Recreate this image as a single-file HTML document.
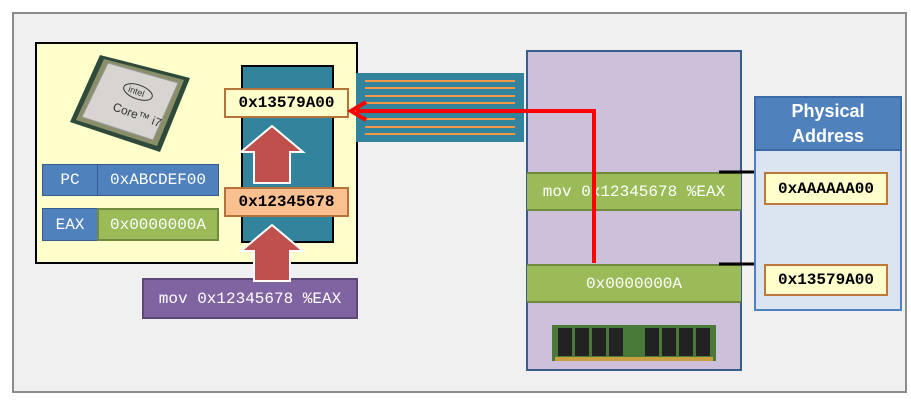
<!DOCTYPE html>
<html><head><meta charset="utf-8"><style>
body{margin:0;width:911px;height:400px;background:#fff;position:relative;overflow:hidden;font-family:"Liberation Mono","DejaVu Sans Mono",monospace}
div{position:absolute;box-sizing:border-box}
.t{display:flex;align-items:center;justify-content:center;font-size:16px}
</style></head><body>
<div style="left:12px;top:12px;width:895px;height:381px;background:#f0f0f0;border:2px solid #8c8c8c"></div>
<div style="left:35px;top:42px;width:323px;height:222px;background:#ffffcc;border:2px solid #000"></div>
<svg style="position:absolute;left:0;top:0" width="911" height="400">
<polygon points="100,55 190,78 160,152 70,122" fill="#2e4a3a"/>
<polygon points="104,59 184,80 157,146 76,120" fill="#8a8f6a"/>
<polygon points="108,63 178,83 153,140 82,117" fill="#d8d4d0" stroke="#999"/>
<text x="112" y="110" font-family="Liberation Sans,sans-serif" font-size="12" fill="#333" transform="rotate(20 112 110)">Core™ i7</text>
<ellipse cx="138" cy="92" rx="15" ry="7" fill="none" stroke="#333" transform="rotate(20 138 92)"/>
<text x="128" y="95" font-family="Liberation Sans,sans-serif" font-size="9" fill="#333" transform="rotate(20 138 92)">intel</text>
</svg>
<div style="left:241px;top:65px;width:93px;height:178px;background:#31849b;border:2px solid #000"></div>
<div class="t" style="left:224px;top:88px;width:125px;height:30px;background:#ffffcc;border:2px solid #b5733a;font-weight:bold">0x13579A00</div>
<div class="t" style="left:224px;top:187px;width:125px;height:30px;background:#fac090;border:2px solid #b5733a;font-weight:bold">0x12345678</div>
<div class="t" style="left:42px;top:164px;width:56px;height:32px;background:#4f81bd;border:1px solid #385d8a;color:#fff">PC</div>
<div class="t" style="left:97px;top:164px;width:122px;height:32px;background:#4f81bd;border:1px solid #385d8a;color:#fff">0xABCDEF00</div>
<div class="t" style="left:42px;top:208px;width:56px;height:33px;background:#4f81bd;border:1px solid #385d8a;color:#fff">EAX</div>
<div class="t" style="left:97px;top:208px;width:122px;height:33px;background:#9bbb59;border:2px solid #71893f;color:#fff">0x0000000A</div>
<div class="t" style="left:142px;top:278px;width:216px;height:41px;background:#8064a2;border:2px solid #5c4776;color:#fff">mov 0x12345678 %EAX</div>
<div style="left:356px;top:73px;width:168px;height:69px;background:#31849b"></div>
<svg style="position:absolute;left:0;top:0" width="911" height="400">
<g stroke="#f79646" stroke-width="2">
<line x1="365" y1="81" x2="515" y2="81"/><line x1="365" y1="88" x2="515" y2="88"/><line x1="365" y1="96" x2="515" y2="96"/><line x1="365" y1="103" x2="515" y2="103"/><line x1="365" y1="119" x2="515" y2="119"/><line x1="365" y1="127" x2="515" y2="127"/><line x1="365" y1="134" x2="515" y2="134"/>
</g>
<polygon points="272,126 303,152 290,152 290,183 254,183 254,152 241,152" fill="#c0504d" stroke="#fff" stroke-width="2"/>
<polygon points="272,225 303,251 290,251 290,281 254,281 254,251 241,251" fill="#c0504d" stroke="#fff" stroke-width="2"/>
</svg>
<div style="left:526px;top:50px;width:216px;height:321px;background:#ccc0da;border:2px solid #385d8a"></div>
<div class="t" style="left:527px;top:172px;width:214px;height:39px;background:#9bbb59;border-top:2px solid #71893f;border-bottom:2px solid #71893f;color:#fff">mov 0x12345678 %EAX</div>
<div class="t" style="left:527px;top:264px;width:214px;height:39px;background:#9bbb59;border-top:2px solid #71893f;border-bottom:2px solid #71893f;color:#fff">0x0000000A</div>
<svg style="position:absolute;left:0;top:0" width="911" height="400">
<rect x="552" y="325" width="164" height="36" fill="#4a7a3a"/>
<g fill="#222"><rect x="558" y="328" width="14" height="28"/><rect x="575" y="328" width="14" height="28"/><rect x="592" y="328" width="14" height="28"/><rect x="609" y="328" width="14" height="28"/><rect x="645" y="328" width="14" height="28"/><rect x="662" y="328" width="14" height="28"/><rect x="679" y="328" width="14" height="28"/><rect x="696" y="328" width="14" height="28"/></g>
<rect x="555" y="357" width="158" height="4" fill="#c8a040"/>
<polyline points="594,263 594,111 356,111" fill="none" stroke="#ff0000" stroke-width="4"/>
<polyline points="366,102 351,111 366,120" fill="none" stroke="#ff0000" stroke-width="4"/>
<line x1="719" y1="172" x2="764" y2="172" stroke="#000" stroke-width="3"/>
<line x1="719" y1="264" x2="764" y2="264" stroke="#000" stroke-width="3"/>
</svg>
<div style="left:754px;top:96px;width:148px;height:215px;background:#dbe5f1;border:2px solid #4f81bd"></div>
<div class="t" style="left:754px;top:96px;width:148px;height:55px;background:#4f81bd;border:2px solid #3a6aa5;color:#fff;font-weight:bold;font-size:18px;line-height:25px;text-align:center;font-family:'Liberation Sans',sans-serif">Physical<br>Address</div>
<div class="t" style="left:764px;top:172px;width:124px;height:33px;background:#ffffcc;border:2px solid #c0783a;font-weight:bold">0xAAAAAA00</div>
<div class="t" style="left:764px;top:264px;width:124px;height:32px;background:#ffffcc;border:2px solid #c0783a;font-weight:bold">0x13579A00</div>
</body></html>
